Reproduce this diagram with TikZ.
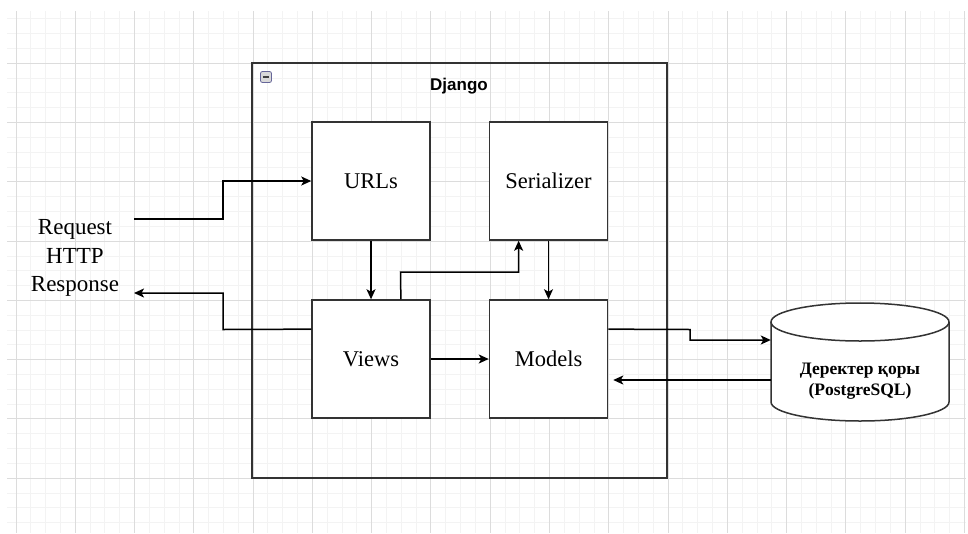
\documentclass[tikz,border=0pt]{standalone}
\usepackage{fontspec}
\setmainfont{Liberation Serif}
\newfontfamily\djsans{Liberation Sans}
\usetikzlibrary{arrows.meta,calc}
\definecolor{gridminor}{HTML}{F3F3F3}
\definecolor{gridmajor}{HTML}{DCDCDC}
\definecolor{boxline}{HTML}{333333}
\tikzset{
  minorline/.style={draw=gridminor,line width=0.9pt},
  majorline/.style={draw=gridmajor,line width=1pt},
  compbox/.style={draw=boxline,line width=1.5pt,fill=white,minimum width=118pt,minimum height=118pt,inner sep=0pt,font=\fontsize{22.5}{26}\selectfont},
  arr/.style={draw=black,line width=1.5pt,-{Stealth[length=10pt,width=9pt,inset=2.5pt]}},
}
\begin{document}
\begin{tikzpicture}[x=1pt,y=-1pt]
\useasboundingbox (0,0) rectangle (968,533);
\fill[white] (0,0) rectangle (968,533);
% grid
\foreach \i in {0,...,64}{
  \pgfmathsetmacro\xx{16.0+14.82*\i}
  \pgfmathtruncatemacro\mm{mod(\i,4)}
  \ifnum\mm=0\relax\else\draw[minorline] (\xx,11) -- (\xx,533);\fi
}
\foreach \j in {0,...,34}{
  \pgfmathsetmacro\yy{18.84+14.82*\j}
  \pgfmathtruncatemacro\mm{mod(\j,4)}
  \ifnum\mm=3\relax\else\draw[minorline] (7,\yy) -- (966,\yy);\fi
}
\foreach \i in {0,4,...,64}{
  \pgfmathsetmacro\xx{16.0+14.82*\i}
  \draw[majorline] (\xx,11) -- (\xx,533);
}
\foreach \j in {3,7,...,34}{
  \pgfmathsetmacro\yy{18.84+14.82*\j}
  \draw[majorline] (7,\yy) -- (966,\yy);
}
% Django container
\node[draw=boxline,line width=1.5pt,minimum width=415pt,minimum height=415pt,inner sep=0pt] (django) at (459.5,270.5) {};
\node[font=\djsans\bfseries\fontsize{17}{20}\selectfont] (djlabel) at (459,86.5) {Django};
\draw[draw=gray!80!blue,fill=gray!30,rounded corners=2pt,line width=0.8pt] (260.5,71.5) rectangle (271.5,82.5);
\draw[line width=1.6pt,draw=black!75] (262.8,77) -- (269.2,77);
% components
\node[compbox] (urls) at (371,181) {URLs};
\node[compbox] (ser) at (548.5,181) {Serializer};
\node[compbox] (views) at (371,359) {Views};
\node[compbox] (models) at (548.5,359) {Models};
% HTTP text
\node[align=center,font=\fontsize{23}{28.5}\selectfont,inner sep=0pt] (http) at (75,258) {Request\\HTTP\\Response};
\coordinate (reqstart) at (134,219);
\coordinate (respend) at (134,293);
% database cylinder
\node[minimum width=178pt,minimum height=118pt,inner sep=0pt] (db) at (860,362) {};
\draw[line width=1.5pt,draw=boxline,fill=white] (771,322) -- (771,402) .. controls (771,412.5) and (811.1,421) .. (860,421) .. controls (908.9,421) and (949,412.5) .. (949,402) -- (949,322);
\draw[line width=1.5pt,draw=boxline,fill=white] (860,322) ellipse [x radius=89, y radius=19];
\node[align=center,font=\bfseries\fontsize{17.5}{21}\selectfont,inner sep=0pt] (dbtext) at (860,381) {Деректер қоры\\(PostgreSQL)};
% connectors
\draw[arr] (reqstart) -- (223,219) |- (urls.west);
\draw[arr] ($(views.north west)!0.25!(views.south west)$) -- (223,329.5) |- (respend);
\draw[arr] (urls.south) -- (views.north);
\draw[arr] (ser.south) -- (models.north);
\draw[arr] (views.east) -- (models.east -| models.west);
\draw[arr] ($(views.north west)!0.75!(views.north east)$) -- (400.5,272) -| ($(ser.south west)!0.25!(ser.south east)$);
\draw[arr] ($(models.north east)!0.25!(models.south east)$) -- (690,329.5) -- (690,340) -- (db.west |- 0,340);
\draw[arr,shorten >=5pt] (db.west |- 0,380) -- (models.east |- 0,380);
\end{tikzpicture}
\end{document}
